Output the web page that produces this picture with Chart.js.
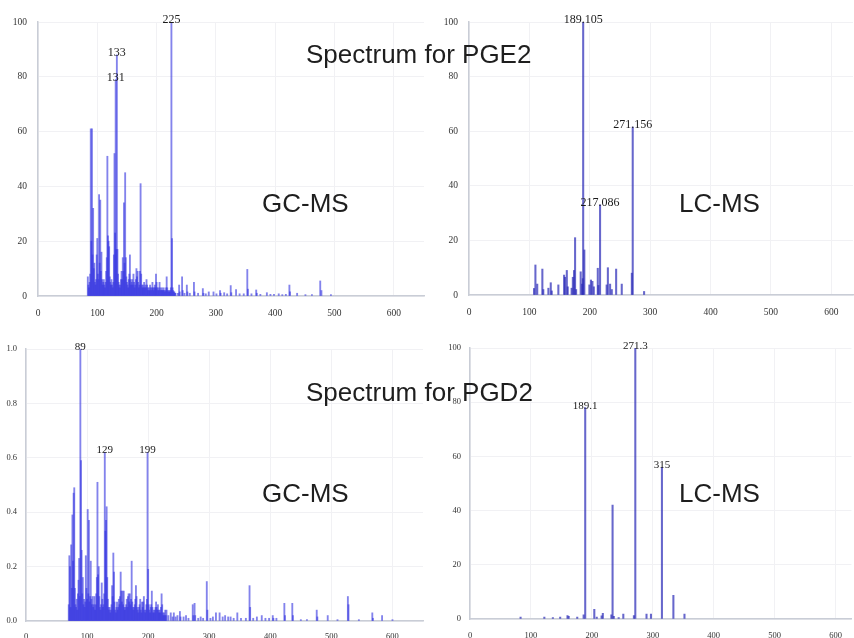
<!DOCTYPE html>
<html>
<head>
<meta charset="utf-8">
<script src="https://cdn.jsdelivr.net/npm/chart.js@4.4.1/dist/chart.umd.min.js"></script>
<style>
    html, body {
        margin: 0;
        padding: 0;
        background: #fff;
        width: 854px;
        height: 638px;
        overflow: hidden;
    }
    body { position: relative; }
    canvas { position: absolute; }
    .big {
        position: absolute;
        font-family: "Liberation Sans", Arial, sans-serif;
        font-size: 26px;
        line-height: 26px;
        color: #1e1e1e;
        white-space: nowrap;
        z-index: 5;
    }
</style>
</head>
<body>
<canvas id="pge2Gc" width="430" height="320" style="left:0;top:0"></canvas>
<canvas id="pge2Lc" width="424" height="320" style="left:430px;top:0"></canvas>
<canvas id="pgd2Gc" width="430" height="330" style="left:0;top:320px"></canvas>
<canvas id="pgd2Lc" width="424" height="330" style="left:430px;top:320px"></canvas>

<div class="big" style="left:306px;top:41px">Spectrum for PGE2</div>
<div class="big" style="left:262px;top:190px">GC-MS</div>
<div class="big" style="left:679px;top:190px">LC-MS</div>
<div class="big" style="left:306px;top:379px">Spectrum for PGD2</div>
<div class="big" style="left:262px;top:480px">GC-MS</div>
<div class="big" style="left:679px;top:480px">LC-MS</div>

<script>
// tick labels
const mzTicks = [0, 100, 200, 300, 400, 500, 600];
const pctTicks = [0, 20, 40, 60, 80, 100];
const fracTicks = [0, 0.2, 0.4, 0.6, 0.8, 1.0];

// PGE2, GC-MS (relative abundance, %)
const pge2GcMz = [
    84, 85, 86, 87, 88, 89, 90, 91, 92, 93,
    94, 95, 96, 97, 98, 99, 100, 101, 102, 103,
    104, 105, 106, 107, 108, 109, 110, 111, 112, 113,
    114, 115, 116, 117, 118, 119, 120, 121, 122, 123,
    124, 125, 126, 127, 128, 129, 130, 131, 132, 133,
    134, 135, 136, 137, 138, 139, 140, 141, 142, 143,
    144, 145, 146, 147, 148, 149, 150, 151, 152, 153,
    154, 155, 156, 157, 158, 159, 160, 161, 162, 163,
    164, 165, 166, 167, 168, 169, 170, 171, 172, 173,
    174, 175, 176, 177, 178, 179, 180, 181, 182, 183,
    184, 185, 186, 187, 188, 189, 190, 191, 192, 193,
    194, 195, 196, 197, 198, 199, 200, 201, 202, 203,
    204, 205, 206, 207, 208, 209, 210, 211, 212, 213,
    214, 215, 216, 217, 218, 219, 220, 221, 222, 223,
    224, 225, 226, 227, 228, 229, 230, 231, 232,
    236, 238, 239, 243, 244, 247, 251, 252, 256, 263,
    264, 270, 278, 279, 283, 288, 296, 301, 307, 308,
    314, 319, 325, 326, 334, 340, 347, 353, 354, 360,
    368, 369, 375, 386, 392, 398, 406, 412, 418, 424,
    425, 437, 451, 462, 476, 478, 494
];
const pge2GcInt = [
    7, 4, 3, 5, 8, 61, 20, 61, 15, 32,
    10, 12, 5, 4, 6, 15, 21, 8, 6, 37,
    12, 35, 9, 16, 6, 4, 5, 6, 4, 3,
    5, 9, 14, 51, 22, 20, 18, 7, 5, 4,
    6, 4, 3, 5, 15, 52, 23, 79, 17, 88,
    17, 8, 5, 4, 3, 4, 6, 9, 6, 14,
    9, 34, 12, 45, 14, 7, 5, 4, 3, 6,
    8, 15, 6, 4, 5, 6, 4, 8, 5, 3,
    4, 6, 10, 7, 9, 5, 3, 4, 9, 41,
    8, 4, 3, 4, 3, 5, 3, 4, 3, 6,
    4, 3, 2, 3, 2, 4, 3, 2, 3, 5,
    3, 2, 3, 4, 3, 8, 5, 3, 2, 3,
    2, 5, 3, 2, 2, 3, 2, 2, 3, 2,
    1.5, 2, 3, 7, 3, 2, 1.5, 2, 1.5, 2,
    3, 100, 21, 3, 2, 1.5, 1.5, 1, 1,
    1, 4, 1.5, 7, 2, 1, 4, 1.5, 1, 5,
    1.5, 1, 2.7, 1, 0.8, 1.5, 1.5, 0.8, 2, 1,
    1.2, 0.8, 3.8, 1.2, 2.3, 0.8, 0.8, 9.7, 2.5, 0.8,
    2.2, 1, 0.6, 1.2, 0.6, 0.6, 0.8, 0.5, 0.6, 4,
    1.5, 1, 0.5, 0.5, 5.5, 2, 0.5
];
const pge2GcLabelMz = [225, 133, 131];

// PGE2, LC-MS (%)
const pge2LcMz = [
    107.7, 110, 113, 121.5, 123, 131.5, 135.4, 137, 148, 157.5,
    159, 162, 163.5, 170, 172, 174, 175.7, 177.4, 185, 187.3,
    188.5, 189.105, 191, 199.4, 202, 204.4, 206.7, 213.3, 214.3, 217.086,
    228, 230, 233.7, 236.5, 243.7, 253, 269.7, 271.156, 290
];
const pge2LcInt = [
    2.4, 11, 4, 9.5, 2, 2.5, 4.5, 1.5, 3.7, 7.3,
    6.5, 9, 3, 2.5, 6.5, 9, 21, 2, 8.5, 4,
    6, 100, 16.5, 3.7, 5.5, 5, 3, 9.8, 3.5, 33,
    3.7, 10, 4, 2, 9.5, 4, 8, 61.5, 1.3
];
const pge2LcLabelMz = [189.105, 271.156, 217.086];

// PGD2, GC-MS (relative abundance, fraction)
const pgd2GcMz = [
    70, 71, 72, 73, 74, 75, 76, 77, 78, 79,
    80, 81, 82, 83, 84, 85, 86, 87, 88, 89,
    90, 91, 92, 93, 94, 95, 96, 97, 98, 99,
    100, 101, 102, 103, 104, 105, 106, 107, 108, 109,
    110, 111, 112, 113, 114, 115, 116, 117, 118, 119,
    120, 121, 122, 123, 124, 125, 126, 127, 128, 129,
    130, 131, 132, 133, 134, 135, 136, 137, 138, 139,
    140, 141, 142, 143, 144, 145, 146, 147, 148, 149,
    150, 151, 152, 153, 154, 155, 156, 157, 158, 159,
    160, 161, 162, 163, 164, 165, 166, 167, 168, 169,
    170, 171, 172, 173, 174, 175, 176, 177, 178, 179,
    180, 181, 182, 183, 184, 185, 186, 187, 188, 189,
    190, 191, 192, 193, 194, 195, 196, 197, 198, 199,
    200, 201, 202, 203, 204, 205, 206, 207, 208, 209,
    210, 211, 212, 213, 214, 215, 216, 217, 218, 219,
    220, 221, 222, 223, 224, 225, 226, 227, 228, 229, 230,
    233, 237, 240, 242, 245, 248, 252, 253, 258, 262,
    266, 273, 274, 276, 277, 282, 286, 290, 296, 297,
    302, 306, 311, 317, 322, 326, 331, 335, 340, 346,
    352, 360, 366, 367, 372, 378, 386, 392, 398, 404,
    405, 410, 423, 424, 436, 437, 450, 460, 476, 477,
    494, 510, 527, 528, 545, 567, 568, 583, 600
];
const pgd2GcInt = [
    0.06, 0.24, 0.20, 0.05, 0.28, 0.12, 0.39, 0.22, 0.47, 0.49,
    0.12, 0.06, 0.05, 0.08, 0.04, 0.10, 0.15, 0.23, 0.09, 1.0,
    0.59, 0.26, 0.10, 0.16, 0.06, 0.08, 0.05, 0.07, 0.24, 0.12,
    0.08, 0.41, 0.10, 0.37, 0.07, 0.09, 0.22, 0.08, 0.06, 0.09,
    0.05, 0.06, 0.09, 0.04, 0.06, 0.10, 0.16, 0.51, 0.17, 0.20,
    0.09, 0.05, 0.04, 0.06, 0.14, 0.08, 0.05, 0.06, 0.10, 0.62,
    0.33, 0.37, 0.42, 0.16, 0.08, 0.05, 0.04, 0.05, 0.03, 0.04,
    0.06, 0.13, 0.09, 0.25, 0.18, 0.07, 0.04, 0.03, 0.05, 0.07,
    0.04, 0.05, 0.08, 0.06, 0.09, 0.18, 0.11, 0.07, 0.11, 0.06,
    0.11, 0.05, 0.04, 0.05, 0.06, 0.08, 0.05, 0.09, 0.10, 0.07,
    0.10, 0.06, 0.08, 0.22, 0.07, 0.05, 0.04, 0.05, 0.06, 0.08,
    0.13, 0.09, 0.05, 0.04, 0.03, 0.05, 0.06, 0.08, 0.04, 0.03,
    0.07, 0.05, 0.07, 0.09, 0.04, 0.03, 0.04, 0.06, 0.08, 0.62,
    0.19, 0.06, 0.04, 0.03, 0.05, 0.06, 0.11, 0.05, 0.03, 0.04,
    0.03, 0.04, 0.05, 0.07, 0.05, 0.04, 0.06, 0.04, 0.03, 0.04,
    0.03, 0.05, 0.10, 0.06, 0.03, 0.02, 0.03, 0.02, 0.04, 0.02, 0.04,
    0.02, 0.03, 0.015, 0.03, 0.015, 0.02, 0.035, 0.015, 0.015, 0.02,
    0.01, 0.06, 0.02, 0.065, 0.02, 0.01, 0.015, 0.01, 0.145, 0.04,
    0.01, 0.015, 0.03, 0.03, 0.015, 0.02, 0.015, 0.015, 0.01, 0.03,
    0.01, 0.01, 0.13, 0.05, 0.01, 0.015, 0.02, 0.01, 0.01, 0.02,
    0.01, 0.01, 0.065, 0.02, 0.065, 0.02, 0.005, 0.005, 0.04, 0.015,
    0.02, 0.005, 0.09, 0.06, 0.005, 0.03, 0.01, 0.02, 0.005
];
const pgd2GcLabelMz = [89, 129, 199];

// PGD2, LC-MS (%)
const pgd2LcMz = [
    83, 122, 136, 148, 160, 162, 176, 186.5, 189.1, 204,
    208, 216, 218, 232, 234, 236, 244, 251.6, 269, 271.3,
    289.7, 297, 315, 333.8, 352
];
const pgd2LcInt = [
    0.7, 0.7, 0.5, 0.7, 1.3, 1, 0.7, 1.5, 78, 3.6,
    0.7, 1.2, 2.1, 1.5, 42, 1, 0.5, 1.8, 1.3, 100,
    1.8, 1.8, 56, 8.7, 1.8
];
const pgd2LcLabelMz = [271.3, 189.1, 315];

function makeSpectrum(id, opt) {
    const canvas = document.getElementById(id);
    const points = opt.mz.map((m, i) => ({ x: m, y: opt.intensity[i] }));

    const peakLabels = {
        id: "peakLabels",
        afterDatasetsDraw(chart) {
            const ctx = chart.ctx;
            const xs = chart.scales.x;
            const ys = chart.scales.y;
            ctx.save();
            ctx.font = opt.labelFont;
            ctx.fillStyle = "#1a1a1a";
            ctx.textAlign = "center";
            ctx.textBaseline = "middle";
            opt.labelMz.forEach((m) => {
                const v = opt.intensity[opt.mz.indexOf(m)];
                ctx.fillText(String(m), xs.getPixelForValue(m), ys.getPixelForValue(v) - 2);
            });
            ctx.restore();
        },
    };

    const gridColor = "#f1f1f4";
    const axisColor = "#c9cdd6";

    return new Chart(canvas.getContext("2d"), {
        type: "bar",
        data: {
            datasets: [
                {
                    data: points,
                    backgroundColor: opt.barColor,
                    borderWidth: 0,
                    barThickness: opt.barWidth,
                },
            ],
        },
        options: {
            responsive: false,
            animation: false,
            layout: {
                padding: { top: opt.padTop, right: opt.padRight, left: 0, bottom: 0 },
            },
            plugins: {
                legend: { display: false },
                tooltip: { enabled: false },
            },
            scales: {
                x: {
                    type: "linear",
                    min: 0,
                    max: opt.xMax,
                    offset: false,
                    grid: { color: gridColor, drawTicks: false, offset: false },
                    border: { color: axisColor, width: 1.5 },
                    ticks: {
                        font: { family: "Liberation Serif", size: opt.tickSize },
                        color: "#333",
                        padding: opt.xTickPad,
                        maxRotation: 0,
                    },
                    afterBuildTicks: (s) => {
                        s.ticks = mzTicks.map((v) => ({ value: v }));
                    },
                    afterFit: (s) => {
                        s.height = opt.xHeight;
                    },
                },
                y: {
                    type: "linear",
                    min: 0,
                    max: opt.yMax,
                    grid: { color: gridColor, drawTicks: false },
                    border: { color: axisColor, width: 1.5 },
                    ticks: {
                        font: { family: "Liberation Serif", size: opt.tickSize },
                        color: "#333",
                        padding: opt.yTickPad,
                        callback: opt.yFormat,
                    },
                    afterBuildTicks: (s) => {
                        s.ticks = opt.yTicks.map((v) => ({ value: v }));
                    },
                    afterFit: (s) => {
                        s.width = opt.yWidth;
                    },
                },
            },
        },
        plugins: [peakLabels],
    });
}

const pctFormat = (v) => String(v);
const fracFormat = (v) => Number(v).toFixed(1);

// GC spectra: translucent so the dense low-mass region reads darker than lone peaks
const gcBlue = "rgba(55, 55, 225, 0.62)";
const lcBlue = "rgba(45, 45, 185, 0.72)";

makeSpectrum("pge2Gc", {
    mz: pge2GcMz, intensity: pge2GcInt, labelMz: pge2GcLabelMz,
    xMax: 651, yMax: 100, yTicks: pctTicks, yFormat: pctFormat,
    yWidth: 38, xHeight: 24, padTop: 22, padRight: 6,
    tickSize: 9.5, yTickPad: 11, xTickPad: 12,
    labelFont: "12px 'Liberation Serif'",
    barColor: gcBlue, barWidth: 1.2,
});

makeSpectrum("pge2Lc", {
    mz: pge2LcMz, intensity: pge2LcInt, labelMz: pge2LcLabelMz,
    xMax: 636, yMax: 100, yTicks: pctTicks, yFormat: pctFormat,
    yWidth: 39, xHeight: 25, padTop: 22, padRight: 1,
    tickSize: 9.5, yTickPad: 11, xTickPad: 12,
    labelFont: "12px 'Liberation Serif'",
    barColor: lcBlue, barWidth: 1.4,
});

makeSpectrum("pgd2Gc", {
    mz: pgd2GcMz, intensity: pgd2GcInt, labelMz: pgd2GcLabelMz,
    xMax: 650, yMax: 1, yTicks: fracTicks, yFormat: fracFormat,
    yWidth: 26, xHeight: 29, padTop: 29, padRight: 7,
    tickSize: 8.5, yTickPad: 9, xTickPad: 11,
    labelFont: "11px 'Liberation Serif'",
    barColor: gcBlue, barWidth: 1.2,
});

makeSpectrum("pgd2Lc", {
    mz: pgd2LcMz, intensity: pgd2LcInt, labelMz: pgd2LcLabelMz,
    xMax: 626, yMax: 100, yTicks: pctTicks, yFormat: pctFormat,
    yWidth: 40, xHeight: 31, padTop: 28, padRight: 1,
    tickSize: 8.5, yTickPad: 9, xTickPad: 12,
    labelFont: "11px 'Liberation Serif'",
    barColor: lcBlue, barWidth: 1.4,
});
</script>
</body>
</html>
